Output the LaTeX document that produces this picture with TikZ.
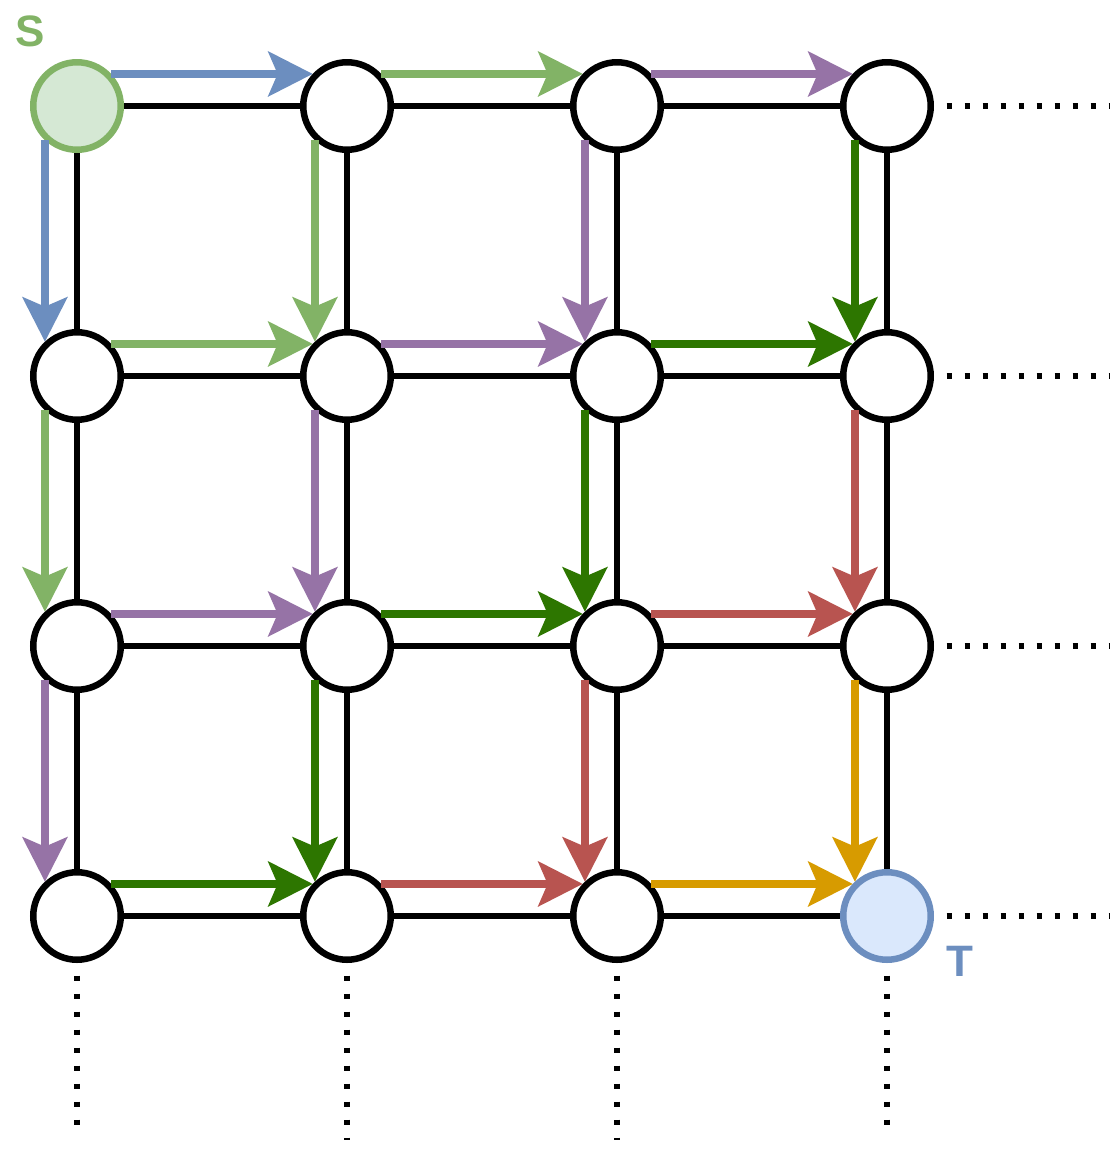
\documentclass[tikz,border=0pt]{standalone}
\usepackage{fontspec}
\setmainfont{Liberation Sans}
\usetikzlibrary{arrows.meta}

\definecolor{hopblue}{HTML}{6C8EBF}
\definecolor{hopgreen}{HTML}{82B366}
\definecolor{hoppurple}{HTML}{9673A6}
\definecolor{hopdark}{HTML}{2D7600}
\definecolor{hopred}{HTML}{B85450}
\definecolor{hoporange}{HTML}{D79B00}
\definecolor{srcfill}{HTML}{D5E8D4}
\definecolor{sinkfill}{HTML}{DAE8FC}

\begin{document}
\begin{tikzpicture}[x=1pt,y=-1pt]
   \tikzstyle{vertex}=[circle,draw,line width=6.5pt,fill=white,minimum size=87.5pt,inner sep=0pt]
   \tikzstyle{source}=[vertex,draw=hopgreen,fill=srcfill]
   \tikzstyle{sink}=[vertex,draw=hopblue,fill=sinkfill]
   \tikzstyle{edge}=[line width=6pt]
   \tikzstyle{hop}=[line width=8.5pt,-{Stealth[length=45pt,width=46pt,inset=10pt,line width=0pt]}]
   \tikzstyle{more}=[line width=5.5pt,dash pattern=on 5.5pt off 12.5pt,dash phase=5.5pt]
   \tikzstyle{tag}=[font=\fontsize{44}{44}\selectfont\bfseries]

   \useasboundingbox (0,0) rectangle (1119,1149);

   \matrix (grid) at (482,511) [row sep={270pt,between origins},column sep={270pt,between origins}] {
      \node (v11) [source] {} ; &
      \node (v12) [vertex] {} ; &
      \node (v13) [vertex] {} ; &
      \node (v14) [vertex] {} ; \\
      \node (v21) [vertex] {} ; &
      \node (v22) [vertex] {} ; &
      \node (v23) [vertex] {} ; &
      \node (v24) [vertex] {} ; \\
      \node (v31) [vertex] {} ; &
      \node (v32) [vertex] {} ; &
      \node (v33) [vertex] {} ; &
      \node (v34) [vertex] {} ; \\
      \node (v41) [vertex] {} ; &
      \node (v42) [vertex] {} ; &
      \node (v43) [vertex] {} ; &
      \node (v44) [sink] {} ; \\
   } ;
   \node (slabel) [tag,text=hopgreen] at (30,31) {S} ;
   \node (tlabel) [tag,text=hopblue] at (960,961) {T} ;

   % grid edges
   \draw [edge] (v11) -- (v12) ;
   \draw [edge] (v12) -- (v13) ;
   \draw [edge] (v13) -- (v14) ;
   \draw [edge] (v21) -- (v22) ;
   \draw [edge] (v22) -- (v23) ;
   \draw [edge] (v23) -- (v24) ;
   \draw [edge] (v31) -- (v32) ;
   \draw [edge] (v32) -- (v33) ;
   \draw [edge] (v33) -- (v34) ;
   \draw [edge] (v41) -- (v42) ;
   \draw [edge] (v42) -- (v43) ;
   \draw [edge] (v43) -- (v44) ;
   \draw [edge] (v11) -- (v21) ;
   \draw [edge] (v21) -- (v31) ;
   \draw [edge] (v31) -- (v41) ;
   \draw [edge] (v12) -- (v22) ;
   \draw [edge] (v22) -- (v32) ;
   \draw [edge] (v32) -- (v42) ;
   \draw [edge] (v13) -- (v23) ;
   \draw [edge] (v23) -- (v33) ;
   \draw [edge] (v33) -- (v43) ;
   \draw [edge] (v14) -- (v24) ;
   \draw [edge] (v24) -- (v34) ;
   \draw [edge] (v34) -- (v44) ;

   % grid goes on
   \coordinate (r1) at (1110,106) ;
   \coordinate (r2) at (1110,376) ;
   \coordinate (r3) at (1110,646) ;
   \coordinate (r4) at (1110,916) ;
   \coordinate (b1) at (77,1130) ;
   \coordinate (b2) at (347,1140) ;
   \coordinate (b3) at (617,1140) ;
   \coordinate (b4) at (887,1130) ;
   \draw [more] (v14.east) -- (r1) ;
   \draw [more] (v24.east) -- (r2) ;
   \draw [more] (v34.east) -- (r3) ;
   \draw [more] (v44.east) -- (r4) ;
   \draw [more] (v41.south) -- (b1) ;
   \draw [more] (v42.south) -- (b2) ;
   \draw [more] (v43.south) -- (b3) ;
   \draw [more] (v44.south) -- (b4) ;

   % paths
   \draw [hop,hopblue] (v11.43) -- (v12.137) ;
   \draw [hop,hopgreen] (v12.43) -- (v13.137) ;
   \draw [hop,hoppurple] (v13.43) -- (v14.137) ;
   \draw [hop,hopgreen] (v21.43) -- (v22.137) ;
   \draw [hop,hoppurple] (v22.43) -- (v23.137) ;
   \draw [hop,hopdark] (v23.43) -- (v24.137) ;
   \draw [hop,hoppurple] (v31.43) -- (v32.137) ;
   \draw [hop,hopdark] (v32.43) -- (v33.137) ;
   \draw [hop,hopred] (v33.43) -- (v34.137) ;
   \draw [hop,hopdark] (v41.43) -- (v42.137) ;
   \draw [hop,hopred] (v42.43) -- (v43.137) ;
   \draw [hop,hoporange] (v43.43) -- (v44.137) ;
   \draw [hop,hopblue] (v11.227) -- (v21.133) ;
   \draw [hop,hopgreen] (v21.227) -- (v31.133) ;
   \draw [hop,hoppurple] (v31.227) -- (v41.133) ;
   \draw [hop,hopgreen] (v12.227) -- (v22.133) ;
   \draw [hop,hoppurple] (v22.227) -- (v32.133) ;
   \draw [hop,hopdark] (v32.227) -- (v42.133) ;
   \draw [hop,hoppurple] (v13.227) -- (v23.133) ;
   \draw [hop,hopdark] (v23.227) -- (v33.133) ;
   \draw [hop,hopred] (v33.227) -- (v43.133) ;
   \draw [hop,hopdark] (v14.227) -- (v24.133) ;
   \draw [hop,hopred] (v24.227) -- (v34.133) ;
   \draw [hop,hoporange] (v34.227) -- (v44.133) ;
\end{tikzpicture}
\end{document}
